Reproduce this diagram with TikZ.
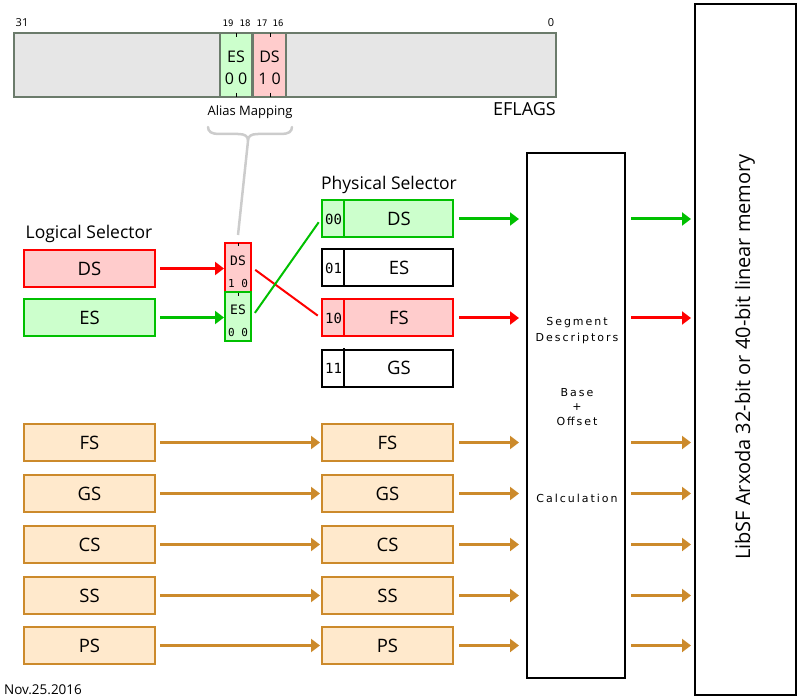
\documentclass[tikz,border=0pt]{standalone}
\usepackage{fontspec}
\setmainfont{Open Sans}
\newfontfamily\monof{DejaVu Sans Mono}
\newfontfamily\segf[LetterSpace=18]{DejaVu Sans}
\usetikzlibrary{arrows.meta}
\definecolor{cred}{HTML}{FF0000}
\definecolor{cgreen}{HTML}{00C000}
\definecolor{cpink}{HTML}{FFCCCC}
\definecolor{clgreen}{HTML}{CCFFCC}
\definecolor{corange}{HTML}{CC8A2B}
\definecolor{cpeach}{HTML}{FFE9CC}
\definecolor{cgrayfill}{HTML}{E6E6E6}
\definecolor{cgrayline}{HTML}{6B7B6B}
\definecolor{cbrace}{HTML}{CCCCCC}
\newcommand{\fs}[1]{\fontsize{#1}{#1}\selectfont}
\begin{document}
\begin{tikzpicture}[x=1pt,y=-1pt,
  selbox/.style={draw, line width=2pt, minimum width=131pt, minimum height=37pt, inner sep=0pt, font=\fs{18.5}},
  redbox/.style={selbox, draw=cred, fill=cpink},
  greenbox/.style={selbox, draw=cgreen, fill=clgreen},
  orangebox/.style={selbox, draw=corange, fill=cpeach},
  blackbox/.style={selbox, draw=black, fill=white},
  aliasbox/.style={draw, line width=2pt, minimum width=26pt, minimum height=49pt, inner sep=0pt},
  txt/.style={inner sep=0pt, font=\fs{18.5}},
  celltxt/.style={inner sep=0pt, font=\monof\fs{14}},
  arr/.style={line width=3pt, -{Triangle[length=9pt,width=13pt]}},
  rarr/.style={arr, draw=cred},
  garr/.style={arr, draw=cgreen},
  oarr/.style={arr, draw=corange},
  segtxt/.style={inner sep=0pt, font=\segf\fs{11}},
  bigbox/.style={draw=black, line width=2pt, inner sep=0pt, fill=white}
]
\useasboundingbox (0,0) rectangle (800,700);

% EFLAGS register
\node[draw=cgrayline, fill=cgrayfill, line width=1.5pt, minimum width=542pt, minimum height=64pt, inner sep=0pt] (eflags) at (285,65) {};
\node[draw=cgrayline, fill=clgreen, line width=1.5pt, minimum width=32pt, minimum height=64pt, inner sep=0pt] (efes) at (236,65) {};
\node[draw=cgrayline, fill=cpink, line width=1.5pt, minimum width=33pt, minimum height=64pt, inner sep=0pt] (efds) at (269.5,65) {};
\foreach \x in {236,270} {
  \draw[line width=1pt, black] (\x,33) -- (\x,37);
  \draw[line width=1pt, black] (\x,93) -- (\x,97);
}
\node[inner sep=0pt, font=\fs{16}] (efestxt) at (236,57) {ES};
\node[inner sep=0pt, font=\fs{16}] (efesval) at (236,79) {0 0};
\node[inner sep=0pt, font=\fs{16}] (efdstxt) at (269.5,57) {DS};
\node[inner sep=0pt, font=\fs{16}] (efdsval) at (269.5,79) {1 0};
\node[inner sep=0pt, font=\fs{11}] (b31) at (22,23) {31};
\node[inner sep=0pt, font=\fs{11}] (b0) at (551,23) {0};
\node[inner sep=0pt, font=\monof\fs{9}] (b19) at (228,23) {19};
\node[inner sep=0pt, font=\monof\fs{9}] (b18) at (245,23) {18};
\node[inner sep=0pt, font=\monof\fs{9}] (b17) at (262,23) {17};
\node[inner sep=0pt, font=\monof\fs{9}] (b16) at (278,23) {16};
\node[inner sep=0pt, font=\fs{13}] (alias) at (250,112) {Alias Mapping};
\node[inner sep=0pt, font=\fs{18}, anchor=east] (efl) at (556,109) {EFLAGS};

% brace
\draw[cbrace, line width=2.5pt, line cap=round, line join=round]
  (208,127) .. controls (208,132) and (212,134) .. (219,134) -- (238,134)
  .. controls (245,134) and (248,136) .. (248,141)
  .. controls (248,136) and (251,134) .. (258,134) -- (281,134)
  .. controls (288,134) and (292,132) .. (292,127);
\coordinate (bracetip) at (248,141);
\coordinate (braceend) at (238,235);
\draw[cbrace, line width=2.5pt] (bracetip) -- (braceend);

% logical selectors
\node[inner sep=0pt, font=\fs{17.5}] (ltitle) at (89,234) {Logical Selector};
\node[redbox] (lds) at (89.5,268.5) {DS};
\node[greenbox] (les) at (89.5,317.5) {ES};

% alias boxes
\node[aliasbox, draw=cred, fill=cpink] (ads) at (238,267.5) {};
\node[aliasbox, draw=cgreen, fill=clgreen] (aes) at (238,317) {};
\draw[line width=1pt, black] (238,243) -- (238,246);
\draw[line width=1pt, black] (238,293) -- (238,296);
\node[inner sep=0pt, font=\monof\fs{13}] (adst) at (238,261) {DS};
\node[inner sep=0pt, font=\monof\fs{11}] (adsv) at (238,283) {1 0};
\node[inner sep=0pt, font=\monof\fs{13}] (aest) at (238,310) {ES};
\node[inner sep=0pt, font=\monof\fs{11}] (aesv) at (238,332) {0 0};

\draw[rarr, shorten <=4pt] (lds.east) -- (lds.east -| ads.west);
\draw[garr, shorten <=4pt] (les.east) -- (les.east -| aes.west);

% physical selectors
\node[inner sep=0pt, font=\fs{17.5}] (ptitle) at (389,185) {Physical Selector};
\node[greenbox] (pds) at (387.5,219) {};
\node[blackbox] (pes) at (387.5,268) {};
\node[redbox] (pfs) at (387.5,318) {};
\node[blackbox] (pgs) at (387.5,368) {};
\draw[line width=2pt, cgreen] ([xshift=23pt]pds.north west) -- ([xshift=23pt]pds.south west);
\draw[line width=2pt, black] ([xshift=23pt]pes.north west) -- ([xshift=23pt]pes.south west);
\draw[line width=2pt, cred] ([xshift=23pt]pfs.north west) -- ([xshift=23pt]pfs.south west);
\draw[line width=2pt, black] ([xshift=23pt]pgs.north west) -- ([xshift=23pt]pgs.south west);
\node[celltxt] (pdsc) at (333.5,219) {00};
\node[celltxt] (pesc) at (333.5,268) {01};
\node[celltxt] (pfsc) at (333.5,318) {10};
\node[celltxt] (pgsc) at (333.5,368) {11};
\node[txt] (pdst) at (399,219) {DS};
\node[txt] (pest) at (399,268) {ES};
\node[txt] (pfst) at (399,318) {FS};
\node[txt] (pgst) at (399,368) {GS};

% crossing lines
\draw[cred, line width=2pt, shorten <=4pt, shorten >=4pt] (ads.east) -- (pfs.west);
\draw[cgreen, line width=2pt, shorten <=5pt, shorten >=4pt] (aes.east) -- (pds.west);

% orange rows
\foreach \n/\y in {FS/442.5, GS/493.5, CS/544.5, SS/595.5, PS/645.5} {
  \node[orangebox] (l\n) at (89.5,\y) {\n};
  \node[orangebox] (p\n) at (387.5,\y) {\n};
  \draw[oarr, shorten <=4pt, shorten >=1pt] (l\n.east) -- (p\n.west);
}

% segment descriptor box
\node[bigbox, minimum width=98pt, minimum height=524pt] (seg) at (576,415.5) {};
\node[segtxt] (s1) at (577,323) {Segment};
\node[segtxt] (s2) at (577,338) {Descriptors};
\node[segtxt] (s3) at (577,393) {Base};
\node[segtxt] (s4) at (577,407) {+};
\node[segtxt] (s5) at (577,421) {Offset};
\node[segtxt] (s6) at (577,498) {Calculation};

% memory box
\node[bigbox, minimum width=101pt, minimum height=691pt] (mem) at (745.5,349.5) {};
\node[inner sep=0pt, font=\fs{20}, rotate=90] (memt) at (745,357) {LibSF Arxoda 32-bit or 40-bit linear memory};

% arrows into and out of segment box
\draw[garr, shorten <=5pt, shorten >=7pt] (pds.east) -- (pds.east -| seg.west);
\draw[rarr, shorten <=5pt, shorten >=7pt] (pfs.east) -- (pfs.east -| seg.west);
\draw[garr, shorten <=5pt, shorten >=3pt] (pds.east -| seg.east) -- (pds.east -| mem.west);
\draw[rarr, shorten <=5pt, shorten >=3pt] (pfs.east -| seg.east) -- (pfs.east -| mem.west);
\foreach \n in {FS,GS,CS,SS,PS} {
  \draw[oarr, shorten <=5pt, shorten >=7pt] (p\n.east) -- (p\n.east -| seg.west);
  \draw[oarr, shorten <=5pt, shorten >=3pt] (p\n.east -| seg.east) -- (p\n.east -| mem.west);
}

\node[inner sep=0pt, font=\fs{13.5}] (date) at (43,690) {Nov.25.2016};
\end{tikzpicture}
\end{document}
